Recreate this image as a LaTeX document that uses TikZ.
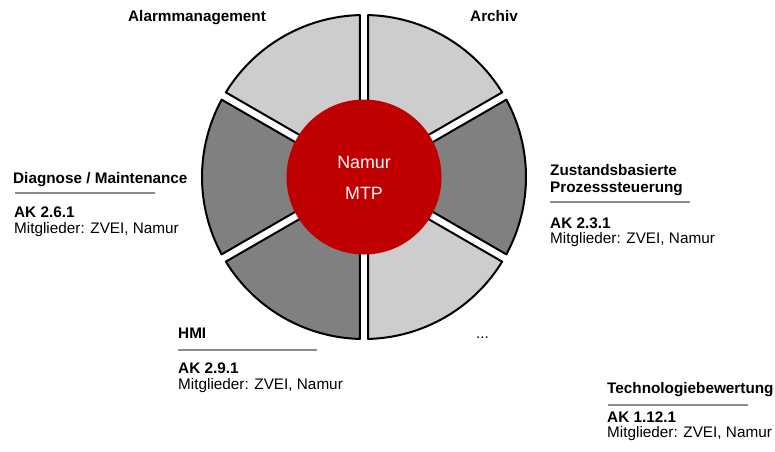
\documentclass[tikz,border=0pt]{standalone}
\usepackage{fontspec}
\setmainfont{Liberation Sans}
\definecolor{lightseg}{HTML}{CDCDCD}
\definecolor{darkseg}{HTML}{808080}
\definecolor{mtpred}{HTML}{C00000}
\definecolor{rulegray}{HTML}{8C8C8C}
\tikzset{
  sector/.style={draw=black, line width=2pt, line join=round},
  head/.style={anchor=base west, inner sep=0pt, font=\fontsize{15.3}{18}\selectfont\bfseries},
  akl/.style={anchor=base west, inner sep=0pt, font=\fontsize{15.3}{18}\selectfont\bfseries},
  memb/.style={anchor=base west, inner sep=0pt, font=\fontsize{15.3}{18}\selectfont},
  rulel/.style={draw=rulegray, line width=1.5pt},
  centertext/.style={text=white, inner sep=0pt, font=\fontsize{17.8}{20}\selectfont}
}
\begin{document}
\begin{tikzpicture}[x=1pt,y=1pt]
\useasboundingbox (0,0) rectangle (775,-451);
\coordinate (C) at (364,-177);
\begin{scope}[shift={(C)}]
  \foreach \b/\c in {60/lightseg,120/lightseg,180/darkseg,240/darkseg,300/lightseg,0/darkseg}{
    \draw[sector, fill=\c] (\b:8.4) -- ({\b-28.51}:162)
      arc[start angle={\b-28.51}, end angle={\b+28.51}, radius=162] -- cycle;
  }
  \fill[mtpred] (0,0) circle (77.5);
\end{scope}
\node[centertext] (namur) at (364,-162) {Namur};
\node[centertext] (mtp) at (364,-193) {MTP};

% Alarmmanagement / Archiv
\node[head] (alarm) at (128,-21) {Alarmmanagement};
\node[head] (archiv) at (470,-21) {Archiv};

% Diagnose
\node[head] (diag) at (13,-183) {Diagnose / Maintenance};
\coordinate (diagA) at (15,-193); \coordinate (diagB) at (155,-193);
\draw[rulel] (diagA) -- (diagB);
\node[akl] (diagak) at (14,-217) {AK 2.6.1};
\node[memb] (diagm) at (14,-233) {Mitglieder: ZVEI, Namur};

% Zustandsbasierte
\node[head] (zust1) at (550,-175) {Zustandsbasierte};
\node[head] (zust2) at (550,-192) {Prozesssteuerung};
\coordinate (zustA) at (550,-202); \coordinate (zustB) at (690,-202);
\draw[rulel] (zustA) -- (zustB);
\node[akl] (zustak) at (550,-228) {AK 2.3.1};
\node[memb] (zustm) at (550,-243) {Mitglieder: ZVEI, Namur};

% HMI
\node[head] (hmi) at (178,-338) {HMI};
\coordinate (hmiA) at (178,-350); \coordinate (hmiB) at (317,-350);
\draw[rulel] (hmiA) -- (hmiB);
\node[akl] (hmiak) at (178,-373) {AK 2.9.1};
\node[memb] (hmim) at (178,-389) {Mitglieder: ZVEI, Namur};

% dots
\node[memb] (dots) at (476,-338) {...};

% Technologiebewertung
\node[head] (tech) at (607,-393) {Technologiebewertung};
\coordinate (techA) at (608,-405); \coordinate (techB) at (748,-405);
\draw[rulel] (techA) -- (techB);
\node[akl] (techak) at (607,-422) {AK 1.12.1};
\node[memb] (techm) at (607,-437) {Mitglieder: ZVEI, Namur};
\end{tikzpicture}
\end{document}
